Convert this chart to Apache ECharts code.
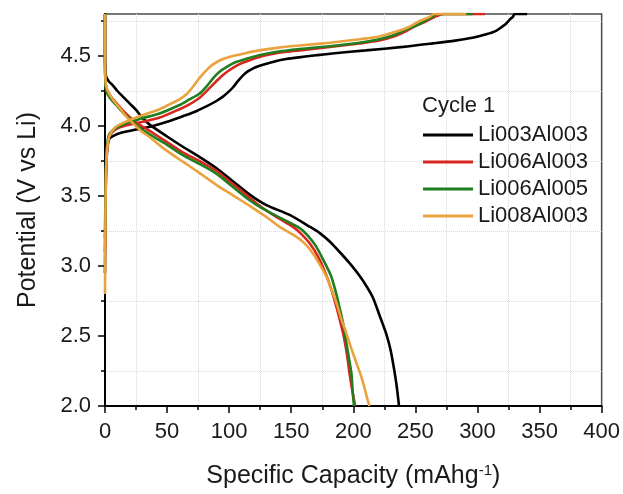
<!DOCTYPE html>
<html>
<head>
<meta charset="utf-8">
<script src="https://cdn.jsdelivr.net/npm/echarts@6/dist/echarts.min.js"></script>
<style>
html,body{margin:0;padding:0;background:#fff;}
#chart{width:623px;height:494px;}
</style>
</head>
<body>
<div id="chart"></div>
<script>
// ---- data (specific capacity mAh/g, potential V) ----
const seriesNames = ['Li003Al003', 'Li006Al003', 'Li006Al005', 'Li008Al003'];
const seriesColors = ['#000000', '#d9261f', '#1f7f1f', '#e9a23d'];
const xTicks = [0, 50, 100, 150, 200, 250, 300, 350, 400];
const yTicks = [2.0, 2.5, 3.0, 3.5, 4.0, 4.5];

const chargeLi003Al003 = [[0,2.95],[0.5,3.5],[1.2,3.75],[2.2,3.86],[3.6,3.91],[8,3.935],[14.4,3.955],[25,3.975],[38.5,4.0],[50,4.03],[62.7,4.07],[72,4.1],[81.6,4.14],[89,4.175],[95,4.21],[99,4.24],[103,4.275],[107,4.32],[111,4.36],[115,4.39],[119,4.41],[124,4.428],[130,4.445],[138,4.465],[146,4.478],[156,4.49],[170,4.505],[185,4.52],[210,4.54],[240,4.565],[264,4.59],[282,4.61],[296,4.63],[307,4.655],[315,4.68],[320,4.71],[323,4.73],[326,4.76],[328.5,4.78],[330,4.8],[340,4.8]];
const chargeLi006Al003 = [[0,3.1],[0.5,3.55],[1.2,3.78],[2.2,3.88],[4,3.94],[11.7,3.99],[27.8,4.025],[44,4.06],[60,4.12],[68,4.155],[76,4.2],[83,4.26],[89.6,4.32],[95,4.365],[100.4,4.40],[108,4.44],[116.5,4.47],[127,4.5],[138,4.52],[156.8,4.54],[181,4.565],[205,4.59],[221,4.61],[233,4.64],[243,4.68],[248,4.705],[254,4.73],[259,4.75],[265.6,4.78],[273,4.8],[306,4.8]];
const chargeLi006Al005 = [[0,3.2],[0.5,3.6],[1.2,3.8],[2.2,3.9],[4,3.95],[11.7,4.0],[27.8,4.05],[44,4.09],[60,4.15],[68,4.19],[76,4.23],[82,4.285],[87,4.34],[92,4.385],[97.7,4.42],[105,4.455],[113.8,4.48],[124,4.505],[135,4.525],[156.8,4.55],[181,4.57],[205,4.595],[221,4.62],[233,4.65],[243,4.69],[253.5,4.73],[261.6,4.77],[268,4.8],[296,4.8]];
const chargeLi008Al003 = [[0,2.8],[0.4,3.4],[1,3.72],[2,3.86],[3.6,3.93],[7,3.98],[11.7,4.01],[27.8,4.07],[44,4.12],[52,4.155],[60,4.19],[66,4.23],[70.8,4.28],[75,4.33],[78.8,4.37],[83,4.41],[87,4.44],[94,4.475],[103,4.50],[113,4.52],[124.5,4.54],[140,4.56],[156.8,4.575],[181,4.595],[205,4.62],[221,4.64],[233,4.67],[243,4.70],[253.5,4.75],[261.6,4.78],[265,4.8],[291,4.8]];

const dischargeLi003Al003 = [[0,4.8],[0,4.5],[0.5,4.38],[1,4.35],[3,4.32],[6.3,4.29],[10,4.25],[14.4,4.21],[20,4.16],[25,4.115],[30,4.06],[36,4.01],[50,3.925],[63,3.85],[76,3.78],[89.6,3.70],[103,3.605],[116.5,3.51],[130,3.435],[148.7,3.365],[165,3.28],[173,3.235],[181,3.175],[189,3.1],[197,3.02],[205,2.93],[211,2.85],[216,2.77],[221,2.65],[226.7,2.51],[230,2.4],[232.5,2.28],[234.8,2.15],[236.8,2.0]];
const dischargeLi006Al003 = [[0,4.8],[0,4.45],[0.4,4.32],[1,4.27],[4,4.22],[9,4.165],[14,4.115],[19.7,4.065],[26,4.02],[36,3.965],[50,3.885],[63,3.81],[76,3.75],[89.6,3.68],[103,3.585],[116.5,3.49],[124.5,3.43],[138,3.35],[151.4,3.28],[158,3.23],[165,3.16],[172,3.06],[178,2.94],[182,2.84],[186,2.72],[189,2.62],[192,2.51],[195,2.36],[197,2.23],[199,2.12],[201.5,2.0]];
const dischargeLi006Al005 = [[0,4.8],[0,4.45],[0.4,4.3],[1,4.25],[4,4.2],[9,4.15],[14,4.1],[20,4.05],[26,4.0],[36,3.94],[50,3.865],[63,3.79],[76,3.73],[89.6,3.66],[103,3.565],[116.5,3.47],[127,3.41],[142,3.34],[156.8,3.27],[164,3.21],[170,3.14],[176,3.04],[182,2.93],[186,2.81],[189,2.70],[192,2.58],[194,2.47],[196.5,2.34],[198.5,2.23],[199.5,2.1],[200.5,2.0]];
const dischargeLi008Al003 = [[0,4.8],[0,4.45],[0.4,4.33],[1,4.28],[4,4.22],[7,4.18],[11.7,4.13],[16,4.08],[22.4,4.02],[29,3.965],[36,3.92],[48,3.835],[62.7,3.745],[76,3.665],[89.6,3.58],[103,3.505],[116.5,3.43],[130,3.35],[140.7,3.28],[154,3.21],[161,3.16],[167.5,3.09],[173,3.01],[178,2.93],[183,2.82],[187,2.72],[190,2.63],[194,2.53],[198,2.42],[202,2.32],[206,2.22],[209,2.13],[211,2.06],[213,2.0]];

const chargeCurves = [chargeLi003Al003, chargeLi006Al003, chargeLi006Al005, chargeLi008Al003];
const dischargeCurves = [dischargeLi003Al003, dischargeLi006Al003, dischargeLi006Al005, dischargeLi008Al003];

// ---- chart ----
const FONT = '"Liberation Sans", Arial, Helvetica, sans-serif';
const chart = echarts.init(document.getElementById('chart'), null, {renderer: 'canvas'});

const series = [];
for (let i = 0; i < seriesNames.length; i++) {
  [chargeCurves[i], dischargeCurves[i]].forEach(function (d) {
    series.push({
      name: seriesNames[i],
      type: 'line',
      data: d,
      color: seriesColors[i],
      showSymbol: false,
      symbol: 'none',
      smooth: 0.25,
      clip: true,
      lineStyle: {width: 2.6, color: seriesColors[i]},
      emphasis: {disabled: true},
      z: 3 + i
    });
  });
}

chart.setOption({
  animation: false,
  backgroundColor: '#ffffff',
  textStyle: {fontFamily: FONT},
  title: {
    text: 'Cycle 1',
    left: 422, top: 95,
    padding: 0,
    textStyle: {fontFamily: FONT, fontSize: 22, fontWeight: 'normal', color: '#1a1a1a'}
  },
  legend: {
    data: seriesNames,
    orient: 'vertical',
    left: 423, top: 124,
    padding: 0,
    itemWidth: 50,
    itemHeight: 3,
    itemGap: 5,
    icon: 'rect',
    selectedMode: false,
    textStyle: {fontFamily: FONT, fontSize: 22, color: '#1a1a1a', lineHeight: 22}
  },
  grid: {
    left: 105, right: 21, top: 14, bottom: 81,
    show: true,
    borderColor: '#4a4a4a',
    borderWidth: 1.5,
    containLabel: false
  },
  xAxis: {
    type: 'value',
    min: 0, max: 400, interval: 50,
    name: 'Specific Capacity (mAhg{sup|-1})',
    nameLocation: 'middle',
    nameGap: 57,
    nameTextStyle: {
      fontFamily: FONT, fontSize: 25, color: '#1a1a1a',
      rich: {sup: {fontFamily: FONT, fontSize: 15, color: '#1a1a1a', padding: [0, 0, 12, 0]}}
    },
    axisLine: {show: true, onZero: false, lineStyle: {color: '#000', width: 2}},
    axisTick: {show: true, inside: false, length: 7, lineStyle: {color: '#000', width: 1.5}},
    minorTick: {show: true, splitNumber: 2, length: 4, lineStyle: {color: '#000', width: 1.5}},
    axisLabel: {
      fontFamily: FONT, fontSize: 22, color: '#1a1a1a', margin: 15,
      formatter: function (v) { return xTicks.indexOf(v) >= 0 ? String(v) : ''; }
    },
    splitLine: {show: false},
    minorSplitLine: {show: true, lineStyle: {color: '#d9d9d9', width: 1, type: 'dotted'}}
  },
  yAxis: {
    type: 'value',
    min: 2.0, max: 4.8, interval: 0.5,
    name: 'Potential (V vs Li)',
    nameLocation: 'middle',
    nameGap: 64,
    nameTextStyle: {fontFamily: FONT, fontSize: 25, color: '#1a1a1a'},
    axisLine: {show: true, onZero: false, lineStyle: {color: '#000', width: 2}},
    axisTick: {show: true, inside: false, length: 7, lineStyle: {color: '#000', width: 1.5}, customValues: yTicks},
    minorTick: {show: true, splitNumber: 2, length: 4, lineStyle: {color: '#000', width: 1.5}},
    axisLabel: {
      fontFamily: FONT, fontSize: 22, color: '#1a1a1a', margin: 14,
      customValues: yTicks,
      formatter: function (v) { return yTicks.some(function (t) { return Math.abs(t - v) < 1e-6; }) ? v.toFixed(1) : ''; }
    },
    splitLine: {show: false},
    minorSplitLine: {show: true, lineStyle: {color: '#d9d9d9', width: 1, type: 'dotted'}}
  },
  series: series
});
</script>
</body>
</html>
